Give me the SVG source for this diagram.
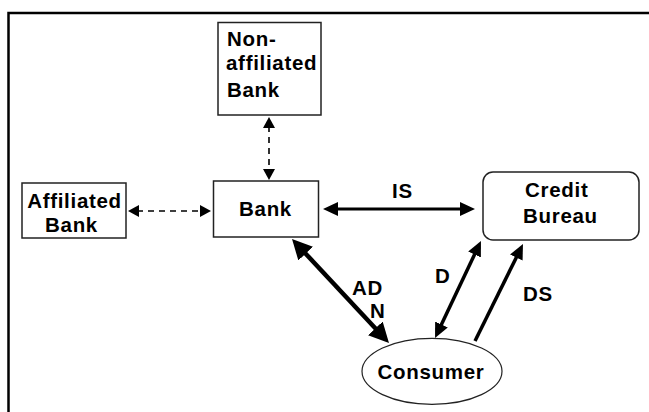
<svg xmlns="http://www.w3.org/2000/svg" width="649" height="412" viewBox="0 0 649 412">
<style>
  .box{fill:#fff;stroke:#222;stroke-width:1.5}
  .t{font-family:"Liberation Sans",Arial,sans-serif;font-size:20.5px;font-weight:bold;letter-spacing:0.7px;fill:#000}
  .dash{stroke:#000;stroke-width:1.6;stroke-dasharray:6 5;fill:none}
  .solid{stroke:#000;fill:none}
</style>
<defs>
  <marker id="ah-s" markerUnits="userSpaceOnUse" markerWidth="12" markerHeight="12" refX="2" refY="6" orient="auto-start-reverse" viewBox="0 0 12 12">
    <path d="M0,0 L11,6 L0,12 z" fill="#000"/>
  </marker>
  <marker id="ah-m" markerUnits="userSpaceOnUse" markerWidth="16" markerHeight="14" refX="2" refY="7" orient="auto-start-reverse" viewBox="0 0 16 14">
    <path d="M0,0 L15,7 L0,14 z" fill="#000"/>
  </marker>
  <marker id="ah-l" markerUnits="userSpaceOnUse" markerWidth="21" markerHeight="20" refX="2" refY="10" orient="auto-start-reverse" viewBox="0 0 21 20">
    <path d="M0,0 L20,10 L0,20 z" fill="#000"/>
  </marker>
</defs>
<rect width="649" height="412" fill="#fff"/>
<path d="M8.5,412 V13 H649" fill="none" stroke="#000" stroke-width="2.5"/>

<g id="connectors">
  <line class="dash" x1="137" y1="211" x2="202" y2="211" marker-start="url(#ah-s)" marker-end="url(#ah-s)"/>
  <line class="dash" x1="269" y1="126" x2="269" y2="171" marker-start="url(#ah-s)" marker-end="url(#ah-s)"/>
  <line class="solid" stroke-width="3.2" x1="336" y1="209" x2="462" y2="209" marker-start="url(#ah-m)" marker-end="url(#ah-m)"/>
  <line class="solid" stroke-width="4.5" x1="304.3" y1="252.2" x2="376.7" y2="329.8" marker-start="url(#ah-l)" marker-end="url(#ah-l)"/>
  <line class="solid" stroke-width="3.5" x1="475.4" y1="252.7" x2="440.6" y2="326.3" marker-start="url(#ah-m)" marker-end="url(#ah-m)"/>
  <line class="solid" stroke-width="3.5" x1="475" y1="341" x2="517.2" y2="255.7" marker-end="url(#ah-m)"/>
  <text class="t" x="392" y="198">IS</text>
  <text class="t" x="352" y="295">AD</text>
  <text class="t" x="370" y="318">N</text>
  <text class="t" x="435" y="283">D</text>
  <text class="t" x="523" y="301">DS</text>
</g>

<g id="nonaffiliated">
  <rect class="box" x="218" y="22.5" width="103" height="92.5"/>
  <text class="t" x="227" y="46">Non-</text>
  <text class="t" x="226" y="69.5">affiliated</text>
  <text class="t" x="227" y="97">Bank</text>
</g>

<g id="affiliated">
  <rect class="box" x="22" y="183" width="104" height="55"/>
  <text class="t" x="74.5" y="208" text-anchor="middle">Affiliated</text>
  <text class="t" x="71.5" y="231.5" text-anchor="middle">Bank</text>
</g>

<g id="bank">
  <rect class="box" x="213.5" y="181" width="105" height="56"/>
  <text class="t" x="265.5" y="216" text-anchor="middle">Bank</text>
</g>

<g id="creditbureau">
  <rect class="box" x="483" y="172" width="156" height="68" rx="10" ry="10"/>
  <text class="t" x="525" y="197">Credit</text>
  <text class="t" x="523" y="223">Bureau</text>
</g>

<g id="consumer">
  <ellipse cx="432" cy="371.3" rx="70" ry="33" fill="#fff" stroke="#222" stroke-width="1.2"/>
  <text class="t" x="431" y="379" text-anchor="middle">Consumer</text>
</g>
</svg>
